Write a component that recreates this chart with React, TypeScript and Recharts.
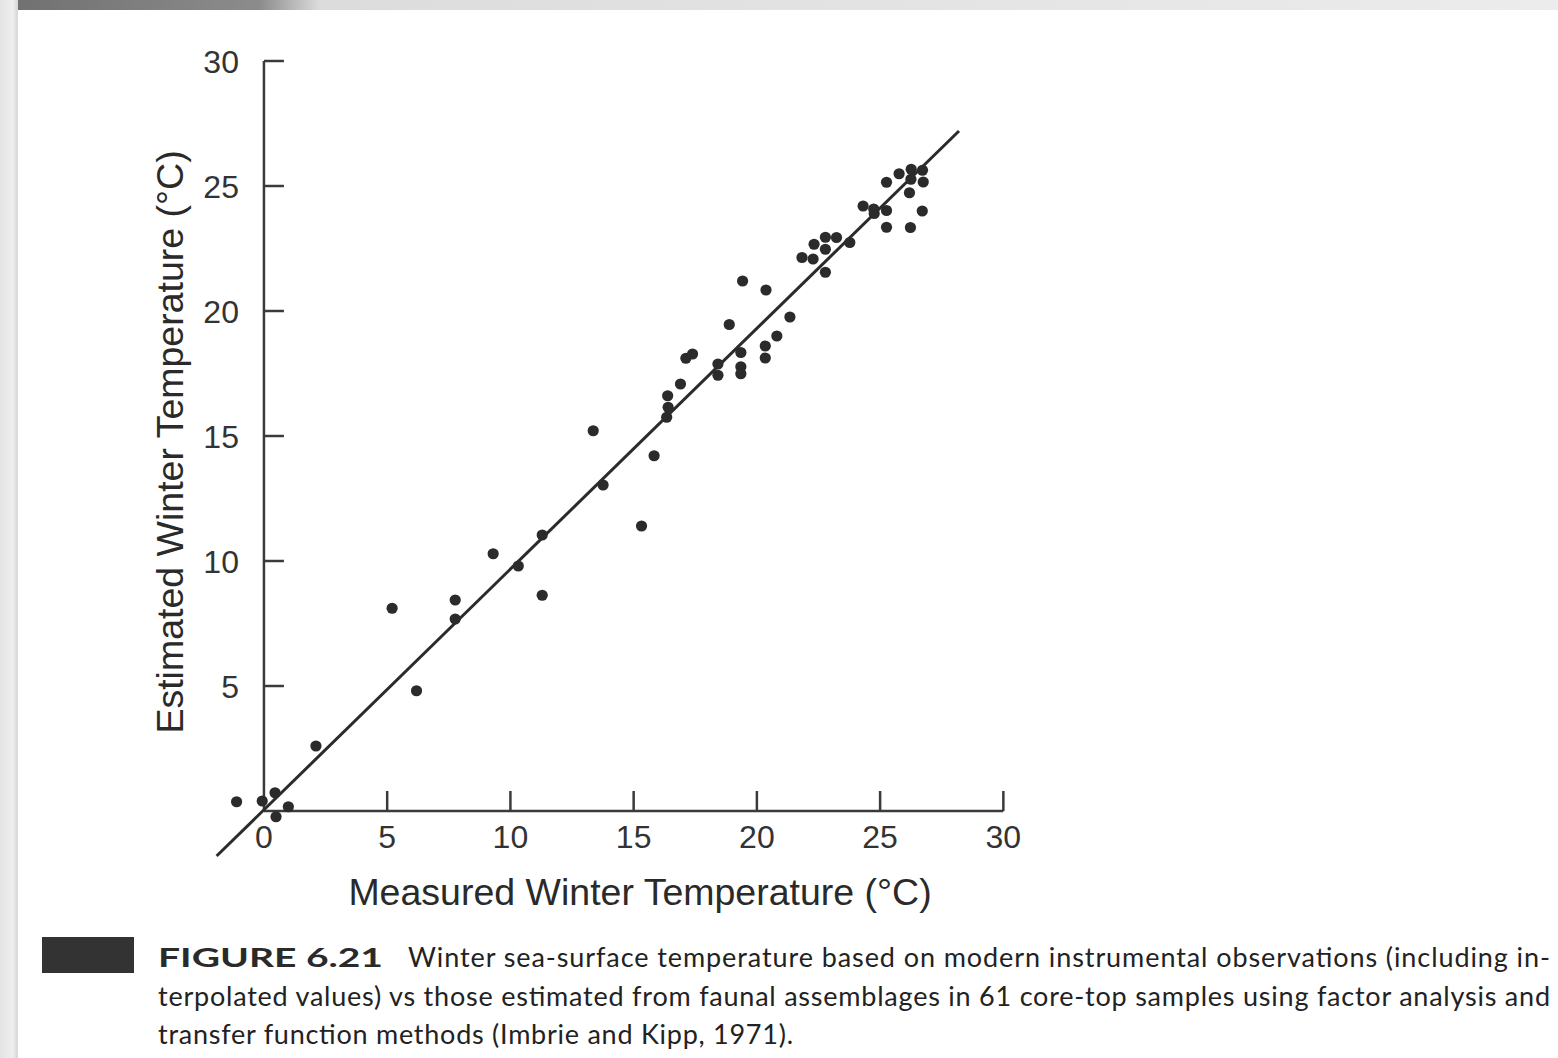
import React from 'react';
import { ScatterChart, Scatter, XAxis, YAxis, ReferenceLine } from 'recharts';

const measured = [
  -1.11, -0.07, 0.45, 0.99, 0.49, 2.11, 6.19, 5.2, 7.76, 7.76,
  9.3, 10.32, 11.29, 11.29, 13.36, 13.76, 15.32, 15.83, 16.34, 16.4,
  16.38, 16.9, 17.12, 17.39, 18.42, 18.42, 18.88, 19.35, 19.35, 19.35,
  19.42, 20.34, 20.34, 20.37, 20.81, 21.34, 21.83, 22.28, 22.32, 22.78,
  22.78, 22.78, 23.23, 23.77, 24.31, 24.74, 24.76, 25.26, 25.26, 25.26,
  25.77, 26.26, 26.72, 26.25, 26.75, 26.19, 26.71, 26.23,
];
const estimated = [
  0.37, 0.4, 0.73, 0.17, -0.23, 2.6, 4.81, 8.11, 8.44, 7.68,
  10.29, 9.8, 11.04, 8.63, 15.21, 13.04, 11.4, 14.21, 15.75, 16.15,
  16.61, 17.08, 18.11, 18.28, 17.88, 17.43, 19.46, 18.34, 17.77, 17.49,
  21.2, 18.6, 18.12, 20.84, 19.0, 19.76, 22.14, 22.08, 22.67, 22.95,
  22.47, 21.55, 22.94, 22.74, 24.2, 24.08, 23.9, 24.02, 23.35, 25.15,
  25.49, 25.67, 25.63, 25.27, 25.16, 24.73, 24.0, 23.34,
];

// ends of the drawn line
const fitX = [-1.92, 28.2];
const fitY = [-1.8, 27.2];

const xTicks = [0, 5, 10, 15, 20, 25, 30];
const yTicks = [5, 10, 15, 20, 25, 30];

const points = measured.map((x, i) => ({ x, y: estimated[i] }));
const xTickPts = xTicks.map(t => ({ x: t, y: 0 }));
const yTickPts = yTicks.map(t => ({ x: 0, y: t }));

const INK = '#2b2b2b';
const AXIS = '#3a3a3a';
const SANS = '"Liberation Sans", Arial, Helvetica, sans-serif';
const CAPTION = 'Lato, "Open Sans", sans-serif';

function Dot(props: any) {
  const { cx, cy } = props;
  return <circle cx={cx} cy={cy} r={5.6} fill={INK} />;
}

function XTick(props: any) {
  const { cx, cy, payload } = props;
  return (
    <g>
      {payload.x > 0 && (
        <line x1={cx} y1={cy} x2={cx} y2={cy - 20} stroke={AXIS} strokeWidth={2.5} />
      )}
      <text x={cx} y={cy + 37} textAnchor="middle" fontSize={32} fill="#333" fontFamily={SANS}>
        {payload.x}
      </text>
    </g>
  );
}

function YTick(props: any) {
  const { cx, cy, payload } = props;
  return (
    <g>
      <line x1={cx} y1={cy} x2={cx + 20} y2={cy} stroke={AXIS} strokeWidth={2.5} />
      <text x={cx - 25} y={cy + 12} textAnchor="end" fontSize={32} fill="#333" fontFamily={SANS}>
        {payload.y}
      </text>
    </g>
  );
}

export default function App() {
  const xEnd = xTicks[xTicks.length - 1];
  const yEnd = yTicks[yTicks.length - 1];
  return (
    <div style={{ position: 'absolute', left: 0, top: 0, width: 1558, height: 1058, background: '#fff', overflow: 'hidden' }}>
      {/* scan edges */}
      <div style={{ position: 'absolute', left: 0, top: 0, width: 1558, height: 10,
        background: 'linear-gradient(to right, #6f6f6f 0px, #8c8c8c 260px, #dcdcdc 320px, #ececec 100%)' }} />
      <div style={{ position: 'absolute', left: 0, top: 0, width: 18, height: 1058,
        background: 'linear-gradient(to right, #e4e4e4, #eeeeee 70%, #d6d6d6)' }} />

      <div style={{ position: 'absolute', left: 0, top: 0 }}>
        <ScatterChart width={1100} height={920} margin={{ top: 36, right: 72, bottom: 34, left: 190 }}>
          <XAxis type="number" dataKey="x" domain={[-3, 31]} hide />
          <YAxis type="number" dataKey="y" domain={[-3, 31]} hide />
          <ReferenceLine segment={[{ x: 0, y: 0 }, { x: xEnd, y: 0 }]} stroke={AXIS} strokeWidth={2.5} ifOverflow="visible" />
          <ReferenceLine segment={[{ x: 0, y: 0 }, { x: 0, y: yEnd }]} stroke={AXIS} strokeWidth={2.5} ifOverflow="visible" />
          <ReferenceLine
            segment={[{ x: fitX[0], y: fitY[0] }, { x: fitX[1], y: fitY[1] }]}
            stroke={INK}
            strokeWidth={3}
            ifOverflow="visible"
          />
          <Scatter data={xTickPts} shape={<XTick />} isAnimationActive={false} />
          <Scatter data={yTickPts} shape={<YTick />} isAnimationActive={false} />
          <Scatter data={points} shape={<Dot />} isAnimationActive={false} />
        </ScatterChart>
      </div>

      <svg width={1558} height={1058} style={{ position: 'absolute', left: 0, top: 0, pointerEvents: 'none' }}>
        <text x={640} y={905} textAnchor="middle" fontSize={37.5} fill="#2a2a2a" fontFamily={SANS}>
          Measured Winter Temperature (°C)
        </text>
        <text transform="translate(183,442) rotate(-90)" textAnchor="middle" fontSize={37.5} fill="#2a2a2a" fontFamily={SANS}>
          Estimated Winter Temperature (°C)
        </text>

        <rect x={42} y={937} width={92} height={36} fill="#333" />
        <text x={158} y={967} fontSize={27} fontWeight={700} fill="#2a2a2a" fontFamily={CAPTION}
          textLength={225} lengthAdjust="spacingAndGlyphs">
          FIGURE 6.21
        </text>
        <text x={408} y={967} fontSize={27} fill="#222" fontFamily={CAPTION} textLength={1142} lengthAdjust="spacing">
          Winter sea-surface temperature based on modern instrumental observations (including in-
        </text>
        <text x={158} y={1006} fontSize={27} fill="#222" fontFamily={CAPTION} textLength={1392} lengthAdjust="spacing">
          terpolated values) vs those estimated from faunal assemblages in 61 core-top samples using factor analysis and
        </text>
        <text x={158} y={1044} fontSize={27} fill="#222" fontFamily={CAPTION} textLength={635} lengthAdjust="spacing">
          transfer function methods (Imbrie and Kipp, 1971).
        </text>
      </svg>
    </div>
  );
}
